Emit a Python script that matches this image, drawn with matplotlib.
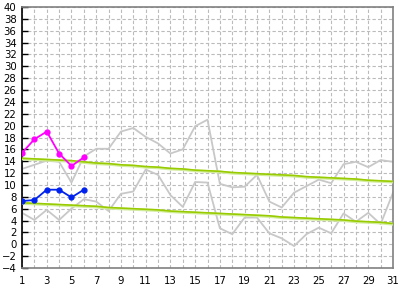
import matplotlib
matplotlib.use("Agg")
import matplotlib.pyplot as plt

days = list(range(1, 32))
upper_gray = [12.7, 13.4, 14.1, 13.9, 10.4, 14.8, 16.1, 16.1, 19.0, 19.6, 18.1, 17.0, 15.3, 16.0, 19.9, 21.0,
              10.2, 9.6, 9.7, 11.7, 7.2, 6.2, 8.7, 9.8, 10.9, 10.3, 13.5, 13.9, 13.0, 14.2, 13.9]
lower_gray = [5.3, 4.1, 5.8, 4.1, 6.0, 7.6, 7.2, 5.6, 8.5, 8.9, 12.6, 11.7, 8.3, 6.3, 10.5, 10.4,
              2.7, 1.7, 4.5, 4.5, 1.85, 1.0, -0.3, 1.7, 2.8, 1.85, 5.2, 3.8, 5.3, 3.4, 8.7]
upper_normal = [14.5, 14.4, 14.3, 14.2, 14.1, 13.9, 13.7, 13.6, 13.4, 13.3, 13.1, 13.0, 12.8, 12.7, 12.5, 12.4,
                12.3, 12.1, 12.0, 11.9, 11.8, 11.7, 11.6, 11.4, 11.3, 11.2, 11.1, 11.0, 10.8, 10.7, 10.6]
lower_normal = [7.0, 6.9, 6.8, 6.7, 6.6, 6.5, 6.4, 6.2, 6.1, 6.0, 5.9, 5.8, 5.6, 5.5, 5.4, 5.3,
                5.2, 5.1, 5.0, 4.9, 4.8, 4.6, 4.5, 4.4, 4.3, 4.2, 4.1, 3.9, 3.8, 3.7, 3.5]
cur_days = [1, 2, 3, 4, 5, 6]
cur_max = [15.4, 17.7, 19.0, 15.3, 13.2, 14.65]
cur_min = [7.3, 7.45, 9.2, 9.2, 7.9, 9.2]

xticks = list(range(1, 32, 2))
yticks = list(range(-4, 41, 2))

fig = plt.figure(figsize=(4.03, 2.89), dpi=100)
ax = fig.add_axes([22/403, 1-268/289, (393-22)/403, (268-7)/289])

ax.set_xlim(1, 31)
ax.set_ylim(-4, 40)
ax.set_xticks(range(1, 32))
ax.set_xticklabels([str(d) if d in xticks else "" for d in range(1, 32)])
ax.set_yticks(yticks)
ax.grid(True, color="#bbbbbb", linestyle=(0, (3, 2)), linewidth=0.8)
ax.set_axisbelow(True)

for s in ["top", "right", "bottom"]:
    ax.spines[s].set_color("#808080")
    ax.spines[s].set_linewidth(1.2)
ax.spines["left"].set_color("black")
ax.spines["left"].set_linewidth(1.2)
ax.tick_params(axis="y", direction="in", length=4, width=1, color="black", labelsize=7.3, pad=4)
ax.tick_params(axis="x", length=0, labelsize=7.3, pad=6)

ax.plot(days, upper_gray, color="#c8c8c8", lw=1.3, zorder=2)
ax.plot(days, lower_gray, color="#c8c8c8", lw=1.3, zorder=2)

for n in (upper_normal, lower_normal):
    ax.plot(days, [v - 0.12 for v in n], color="#d2ec9c", lw=2.0, zorder=3)
    ax.plot(days, n, color="#99cc00", lw=1.2, zorder=4)

ax.plot(cur_days, cur_max, color="#ff00ff", lw=1.3, marker="o", ms=3.5, zorder=5)
ax.plot(cur_days, cur_min, color="#0022ee", lw=1.3, marker="o", ms=3.5, zorder=5)

fig.savefig("out.png", dpi=100)
